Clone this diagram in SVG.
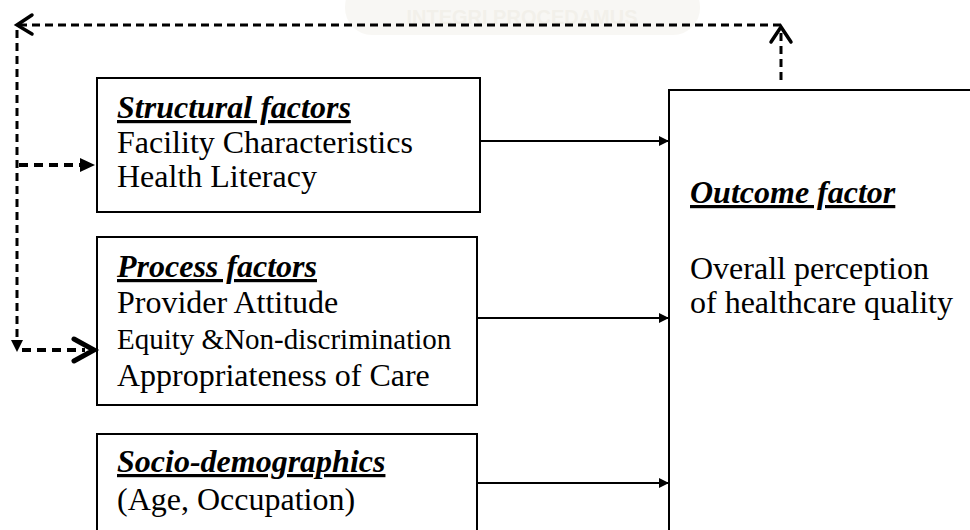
<svg xmlns="http://www.w3.org/2000/svg" width="970" height="530" viewBox="0 0 970 530">
<style>
.box{fill:#fff;stroke:#000;stroke-width:2}
.t{font-family:"Liberation Serif","Times New Roman",serif;font-size:32px;fill:#000}
.h{font-weight:bold;font-style:italic;text-decoration:underline}
.sm{font-size:29px}
.solid{stroke:#000;stroke-width:2;fill:none}
.dash{stroke:#000;stroke-width:3;fill:none;stroke-dasharray:8 5}
.dashb{stroke:#000;stroke-width:4;fill:none;stroke-dasharray:9 6}
.chev{stroke:#000;stroke-width:3.5;fill:none;stroke-linecap:round;stroke-linejoin:miter}
</style>
<defs>
<marker id="tri" markerWidth="10" markerHeight="10" refX="9" refY="5" orient="auto" markerUnits="userSpaceOnUse">
<path d="M0,0 L10,5 L0,10 Z" fill="#000"/>
</marker>
</defs>
<g id="watermark" opacity="0.5">
<rect x="345" y="-20" width="355" height="55" rx="27" fill="#f3f1ea"/>
<text x="522" y="24" text-anchor="middle" font-family="Liberation Sans,Arial,sans-serif" font-weight="bold" font-size="20" fill="#e6e2d6">INTEGRI PROCEDAMUS</text>
</g>
<g id="structural">
<rect class="box" x="97" y="78" width="383" height="134"/>
<text class="t h" x="117" y="118">Structural factors</text>
<text class="t" x="117" y="153">Facility Characteristics</text>
<text class="t" x="117" y="187">Health Literacy</text>
</g>
<g id="process">
<rect class="box" x="97" y="237" width="380" height="168"/>
<text class="t h" x="117" y="277">Process factors</text>
<text class="t" x="117" y="313">Provider Attitude</text>
<text class="t sm" x="117" y="349">Equity &amp;Non-discrimination</text>
<text class="t" x="117" y="386">Appropriateness of Care</text>
</g>
<g id="socio">
<rect class="box" x="97" y="434" width="380" height="120"/>
<text class="t h" x="117" y="472">Socio-demographics</text>
<text class="t" x="117" y="510">(Age, Occupation)</text>
</g>
<g id="outcome">
<rect class="box" x="669" y="90" width="320" height="460"/>
<text class="t h" x="690" y="203">Outcome factor</text>
<text class="t" x="690" y="279">Overall perception</text>
<text class="t" x="690" y="313">of healthcare quality</text>
</g>
<g id="connectors">
<line class="solid" x1="480" y1="141" x2="668" y2="141" marker-end="url(#tri)"/>
<line class="solid" x1="477" y1="318" x2="668" y2="318" marker-end="url(#tri)"/>
<line class="solid" x1="477" y1="483" x2="668" y2="483" marker-end="url(#tri)"/>
<line class="dash" x1="781" y1="80" x2="781" y2="30"/>
<polyline class="chev" points="771,42 781,27 791,42"/>
<line class="dash" x1="781" y1="25" x2="20" y2="25"/>
<polyline class="chev" points="32,15 17,25 32,34"/>
<line class="dash" x1="17" y1="30" x2="17" y2="342"/>
<path d="M11,340 L23,340 L17,352 Z" fill="#000"/>
<line class="dashb" x1="19" y1="165" x2="84" y2="165"/>
<path d="M80,158 L95,165 L80,172 Z" fill="#000"/>
<line class="dashb" x1="22" y1="350" x2="85" y2="350"/>
<polyline class="chev" points="74,339 94,350 74,361" style="stroke-width:5"/>
</g>
</svg>
